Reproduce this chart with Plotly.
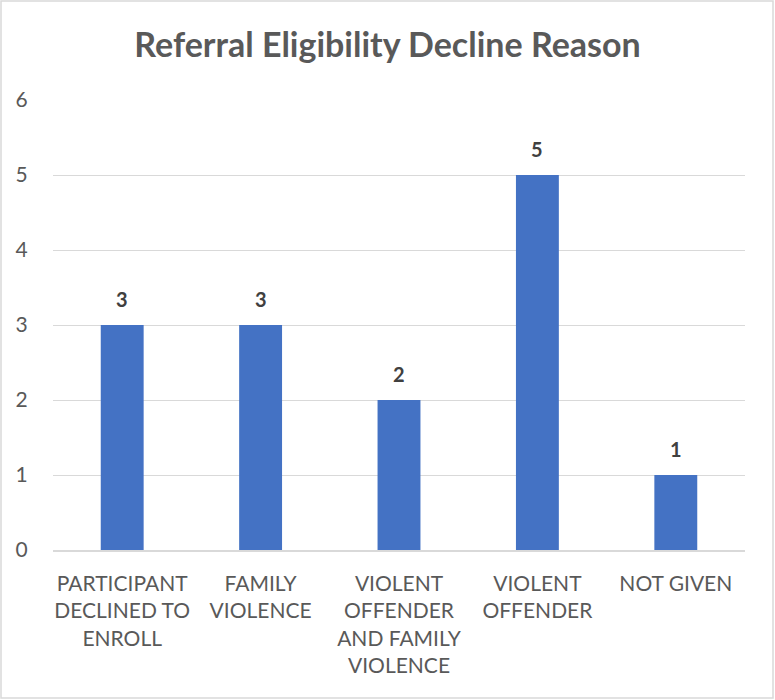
import plotly.graph_objects as go

categories = [
    "PARTICIPANT<br>DECLINED TO<br>ENROLL",
    "FAMILY<br>VIOLENCE",
    "VIOLENT<br>OFFENDER<br>AND FAMILY<br>VIOLENCE",
    "VIOLENT<br>OFFENDER",
    "NOT GIVEN",
]
counts = [3, 3, 2, 5, 1]
y_ticks = [0, 1, 2, 3, 4, 5, 6]

W, H = 775, 700
L, R, T, B = 53, 30, 100, 150
pw, ph = W - L - R, H - T - B

fig = go.Figure(
    go.Bar(
        x=categories,
        y=counts,
        marker=dict(color="#4472C4", line=dict(width=0)),
        hoverinfo="skip",
    )
)

# value labels above each bar
for cat, v in zip(categories, counts):
    fig.add_annotation(
        x=cat,
        y=v,
        text=f"<b>{v}</b>",
        showarrow=False,
        yanchor="middle",
        yshift=26,
        font=dict(family="Lato", size=20, color="#404040"),
    )

fig.update_layout(
    width=W,
    height=H,
    margin=dict(l=L, r=R, t=T, b=B),
    paper_bgcolor="white",
    plot_bgcolor="white",
    bargap=0.69,
    showlegend=False,
    title=dict(
        text="<b>Referral Eligibility Decline Reason</b>",
        x=0.5,
        xanchor="center",
        y=1 - 45 / H,
        yanchor="middle",
        font=dict(family="Lato", size=34, color="#595959"),
    ),
    font=dict(family="Lato", color="#595959"),
)

fig.update_xaxes(
    showgrid=False,
    showline=True,
    linecolor="#d9d9d9",
    linewidth=1.5,
    tickfont=dict(family="Lato", size=21, color="#595959"),
    ticks="outside",
    ticklen=14,
    tickcolor="rgba(0,0,0,0)",
    tickangle=0,
)

fig.update_yaxes(
    range=[0, 6],
    tickvals=y_ticks,
    showgrid=True,
    gridcolor="#d9d9d9",
    gridwidth=1.2,
    zeroline=False,
    showline=False,
    tickfont=dict(family="Lato", size=21, color="#595959"),
    ticks="outside",
    ticklen=20,
    tickcolor="rgba(0,0,0,0)",
)

# outer chart border
fig.add_shape(
    type="rect",
    xref="paper",
    yref="paper",
    x0=(1 - L) / pw,
    x1=(W - 2 - L) / pw,
    y0=-(H - 2 - T - ph) / ph,
    y1=1 + (T - 1) / ph,
    line=dict(color="#d9d9d9", width=1.5),
    fillcolor="rgba(0,0,0,0)",
    layer="below",
)

fig.write_html("out.html")
